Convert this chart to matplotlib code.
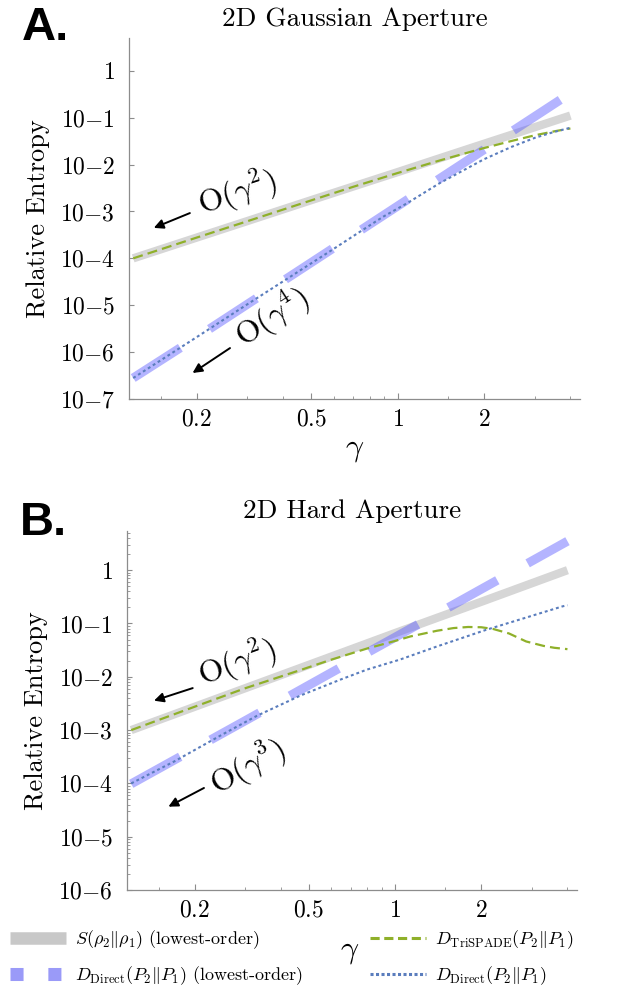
import numpy as np
import matplotlib
matplotlib.use("Agg")
import matplotlib.pyplot as plt
from matplotlib.lines import Line2D
from matplotlib.ticker import FixedLocator, FixedFormatter, NullFormatter, LogLocator

plt.rcParams['mathtext.fontset'] = 'cm'
plt.rcParams['font.family'] = ['cmr10', 'DejaVu Serif']
plt.rcParams['axes.formatter.use_mathtext'] = True

# ---- panel A: 2D Gaussian aperture ----
gA_S = [0.12, 0.2, 0.3, 0.5, 0.7, 1.0, 1.4, 2.0, 2.5, 3.0, 3.5, 4.0]
S_A = [1.0e-4, 2.78e-4, 6.25e-4, 1.74e-3, 3.4e-3, 6.9e-3, 1.36e-2, 2.78e-2, 4.34e-2, 6.25e-2, 8.5e-2, 0.111]

gA_Dlo = [0.12, 0.2, 0.5, 1.0, 2.0, 4.0]
Dlo_A = [2.8e-7, 2.08e-6, 8.1e-5, 1.3e-3, 2.08e-2, 0.333]

gA_tri = [0.12, 0.2, 0.3, 0.5, 0.7, 1.0, 1.4, 2.0, 2.5, 3.0, 3.5, 4.0]
tri_A = [1.0e-4, 2.78e-4, 6.2e-4, 1.72e-3, 3.35e-3, 6.6e-3, 1.22e-2, 2.25e-2, 3.2e-2, 4.2e-2, 5.1e-2, 5.9e-2]

gA_dir = [0.12, 0.2, 0.3, 0.58, 0.74, 0.89, 1.08, 1.4, 2.0, 2.5, 3.0, 3.5, 4.0]
dir_A = [2.8e-7, 2.1e-6, 1.05e-5, 1.4e-4, 3.7e-4, 7.7e-4, 1.5e-3, 4.0e-3, 1.3e-2, 2.4e-2, 3.7e-2, 4.95e-2, 6.1e-2]

# ---- panel B: 2D hard aperture ----
gB_S = [0.12, 0.3, 0.6, 1.0, 2.0, 4.0]
S_B = [1.0e-3, 6.1e-3, 2.4e-2, 6.6e-2, 0.255, 1.0]

gB_Dlo = [0.12, 0.3, 0.6, 1.0, 2.0, 4.0]
Dlo_B = [9.8e-5, 1.5e-3, 1.2e-2, 5.5e-2, 0.44, 3.5]

gB_tri = [0.12, 0.2, 0.3, 0.47, 0.6, 0.8, 1.0, 1.13, 1.4, 1.6, 1.8, 2.0, 2.2, 2.5, 2.87, 3.3, 3.6, 4.0]
tri_B = [1.0e-3, 2.75e-3, 6.1e-3, 1.35e-2, 2.1e-2, 3.4e-2, 4.7e-2, 5.7e-2, 7.3e-2, 8.2e-2, 8.6e-2, 8.5e-2,
         7.9e-2, 6.5e-2, 4.6e-2, 3.8e-2, 3.5e-2, 3.3e-2]

gB_dir = [0.12, 0.17, 0.25, 0.33, 0.47, 0.65, 0.8, 1.04, 1.4, 2.08, 2.8, 3.85, 4.0]
dir_B = [1.0e-4, 2.6e-4, 8.3e-4, 1.86e-3, 4.5e-3, 9.0e-3, 1.37e-2, 2.1e-2, 3.7e-2, 7.6e-2, 0.124, 0.21, 0.22]

x_major = [0.2, 0.5, 1, 2]
x_major_labels = ['0.2', '0.5', '1', '2']
x_minor = [0.15, 0.3, 0.4, 0.6, 0.7, 0.8, 0.9, 1.5, 3, 4]
yA_ticks = [1, 1e-1, 1e-2, 1e-3, 1e-4, 1e-5, 1e-6, 1e-7]
yA_labels = ['$1$', '$10{-}1$', '$10{-}2$', '$10{-}3$', '$10{-}4$', '$10{-}5$', '$10{-}6$', '$10{-}7$']
yB_ticks = yA_ticks[:-1]
yB_labels = yA_labels[:-1]

C_GRAY = '#d6d6d6'
C_THICK = (0.35, 0.35, 1.0)
C_GREEN = '#8fb02a'
C_DOT = '#5a7dbd'
C_AXIS = '#8c8c8c'

fig = plt.figure(figsize=(6.18, 9.9), dpi=100)


def draw_panel(ax, gS, S, gD, D, gT, T, gR, R, ymin, ymax, yticks, ylabels, minor_y):
    ax.plot(gS, S, color=C_GRAY, lw=6.0, solid_capstyle='butt')
    ax.plot(gD, D, color=C_THICK, alpha=0.45, lw=6.5, dashes=(6.2, 3.85), dash_capstyle='butt')
    ax.plot(gT, T, color=C_GREEN, lw=1.6, dashes=(4.5, 2.3))
    ax.plot(gR, R, color=C_DOT, lw=1.5, dashes=(1.4, 1.4))
    ax.set_xscale('log')
    ax.set_yscale('log')
    ax.set_xlim(0.116, 4.32)
    ax.set_ylim(ymin, ymax)
    ax.xaxis.set_major_locator(FixedLocator(x_major))
    ax.xaxis.set_major_formatter(FixedFormatter(['$%s$' % s for s in x_major_labels]))
    ax.xaxis.set_minor_locator(FixedLocator(x_minor))
    ax.xaxis.set_minor_formatter(NullFormatter())
    ax.yaxis.set_major_locator(FixedLocator(yticks))
    ax.yaxis.set_major_formatter(FixedFormatter(ylabels))
    if minor_y:
        ax.yaxis.set_minor_locator(LogLocator(base=10, subs=np.arange(2, 10)))
    else:
        ax.yaxis.set_minor_locator(FixedLocator([]))
    ax.yaxis.set_minor_formatter(NullFormatter())
    for s in ['top', 'right']:
        ax.spines[s].set_visible(False)
    for s in ['left', 'bottom']:
        ax.spines[s].set_color(C_AXIS)
        ax.spines[s].set_linewidth(0.9)
    ax.tick_params(which='both', direction='in', color=C_AXIS, labelsize=17)
    ax.tick_params(axis='x', which='major', length=4, pad=7)
    ax.tick_params(axis='x', which='minor', length=2.5)
    ax.tick_params(axis='y', which='major', length=3.5, pad=10)
    ax.tick_params(axis='y', which='minor', length=2)
    ax.set_ylabel('Relative Entropy', fontsize=19, labelpad=7)
    ax.set_xlabel(r'$\gamma$', fontsize=23, labelpad=4)


axA = fig.add_axes([0.2087, 0.5970, 0.7298, 0.3646])
draw_panel(axA, gA_S, S_A, gA_Dlo, Dlo_A, gA_tri, tri_A, gA_dir, dir_A,
           1e-7, 10 ** 0.70, yA_ticks, yA_labels, False)
axA.set_title('2D Gaussian Aperture', fontsize=19.5, pad=9)

axB = fig.add_axes([0.2055, 0.1010, 0.7282, 0.3629])
draw_panel(axB, gB_S, S_B, gB_Dlo, Dlo_B, gB_tri, tri_B, gB_dir, dir_B,
           1e-6, 10 ** 0.74, yB_ticks, yB_labels, True)
axB.set_title('2D Hard Aperture', fontsize=19.5, pad=9)
axB.xaxis.set_label_coords(0.495, -0.135)

# scaling annotations
ann = dict(arrowstyle='-|>', color='k', lw=1.4, mutation_scale=14, shrinkA=0, shrinkB=0)
axA.annotate('', xy=(0.055, 0.474), xytext=(0.135, 0.515), xycoords='axes fraction', arrowprops=ann)
axA.text(0.24, 0.571, r'$\mathrm{O}(\gamma^2)$', transform=axA.transAxes, fontsize=23,
         rotation=18, ha='center', va='center', rotation_mode='anchor')
axA.annotate('', xy=(0.141, 0.072), xytext=(0.224, 0.141), xycoords='axes fraction', arrowprops=ann)
axA.text(0.317, 0.224, r'$\mathrm{O}(\gamma^4)$', transform=axA.transAxes, fontsize=23,
         rotation=33, ha='center', va='center', rotation_mode='anchor')

axB.annotate('', xy=(0.06, 0.527), xytext=(0.146, 0.562), xycoords='axes fraction', arrowprops=ann)
axB.text(0.244, 0.632, r'$\mathrm{O}(\gamma^2)$', transform=axB.transAxes, fontsize=23,
         rotation=20, ha='center', va='center', rotation_mode='anchor')
axB.annotate('', xy=(0.092, 0.232), xytext=(0.171, 0.284), xycoords='axes fraction', arrowprops=ann)
axB.text(0.269, 0.342, r'$\mathrm{O}(\gamma^3)$', transform=axB.transAxes, fontsize=23,
         rotation=29, ha='center', va='center', rotation_mode='anchor')

# panel letters
fig.text(0.035, 1 - 40 / 990, 'A.', fontsize=34, fontweight='bold', family='Liberation Sans', va='baseline')
fig.text(0.032, 1 - 535 / 990, 'B.', fontsize=34, fontweight='bold', family='Liberation Sans', va='baseline')

# legend
handles = [
    Line2D([], [], color='#c8c8c8', lw=9, solid_capstyle='butt'),
    Line2D([], [], color='#9a9af8', lw=9.4, dashes=(1.0, 1.9), dash_capstyle='butt'),
    Line2D([], [], color=C_GREEN, lw=2.2, dashes=(3.0, 1.5)),
    Line2D([], [], color=C_DOT, lw=2.2, dashes=(1.0, 0.8)),
]
labels = [
    r'$S(\rho_2\|\rho_1)$ (lowest-order)',
    r'$D_{\mathrm{Direct}}(P_2\|P_1)$ (lowest-order)',
    r'$D_{\mathrm{TriSPADE}}(P_2\|P_1)$',
    r'$D_{\mathrm{Direct}}(P_2\|P_1)$',
]
fig.legend(handles, labels, ncol=2, loc='lower left', bbox_to_anchor=(-0.004, -0.0102),
           frameon=False, fontsize=13, handlelength=3.1, handletextpad=0.5,
           columnspacing=3.7, labelspacing=0.77, borderpad=0.2)

fig.savefig('out.png', dpi=100)
